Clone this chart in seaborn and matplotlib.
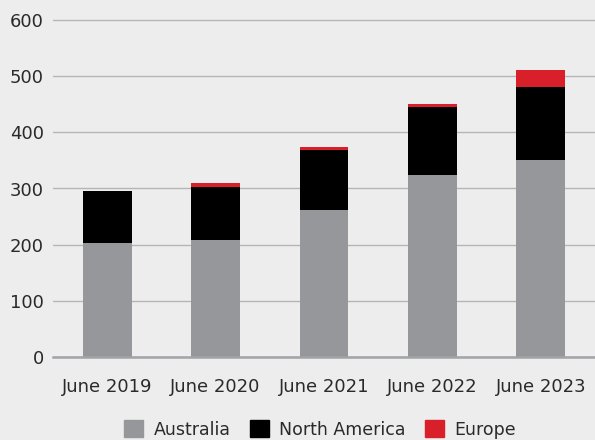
import matplotlib
matplotlib.use("Agg")
import matplotlib.pyplot as plt
import matplotlib.patches as mpatches
from matplotlib.ticker import FixedLocator
import seaborn as sns
import pandas as pd
import numpy as np

categories = ["June 2019", "June 2020", "June 2021", "June 2022", "June 2023"]
australia = [203, 208, 262, 324, 351]
north_america = [92, 95, 106, 121, 130]
europe = [0, 7, 6, 5, 30]
series_names = ["Australia", "North America", "Europe"]
y_ticks = [0, 100, 200, 300, 400, 500, 600]

colors = {"Australia": "#96979b", "North America": "#000000", "Europe": "#d9202a"}
bg = "#ededed"
txt = "#2a2a2a"

sns.set_theme(style="white")
plt.rcParams["font.family"] = ["DejaVu Sans"]

df = pd.DataFrame({"category": categories, "Australia": australia,
                   "North America": north_america, "Europe": europe})
df["c1"] = df["Australia"]
df["c2"] = df["c1"] + df["North America"]
df["c3"] = df["c2"] + df["Europe"]

W, H = 595, 440
fig = plt.figure(figsize=(W / 100, H / 100), dpi=100, facecolor=bg)
ymax = 620
y0_px, y600_px = 357, 20
h_px = (y0_px - y600_px) * ymax / 600
left_px = 53
ax = fig.add_axes([left_px / W, 1 - y0_px / H, (W - left_px) / W, h_px / H])
ax.set_facecolor(bg)

for col, name in [("c3", "Europe"), ("c2", "North America"), ("c1", "Australia")]:
    sns.barplot(data=df, x="category", y=col, color=colors[name], width=0.45,
                saturation=1, ax=ax, zorder=3, linewidth=0)

ax.set_xlim(-0.5, 4.5)
ax.set_ylim(0, ymax)
ax.set_yticks(y_ticks)
ax.set_yticklabels([str(v) for v in y_ticks])
ax.yaxis.grid(True, color="#b5b5b5", linewidth=1.0, zorder=0)
ax.xaxis.grid(False)
ax.set_xlabel("")
ax.set_ylabel("")
for s in ["top", "right", "left"]:
    ax.spines[s].set_visible(False)
ax.spines["bottom"].set_color("#a2a3a8")
ax.spines["bottom"].set_linewidth(1.8)
ax.spines["bottom"].set_zorder(4)

ax.tick_params(axis="y", length=0, pad=6.5, labelsize=13, labelcolor=txt)
ax.tick_params(axis="x", which="major", length=0, pad=15, labelsize=13, labelcolor=txt)
ax.xaxis.set_minor_locator(FixedLocator(np.arange(-0.5, 4.6, 1.0)))
ax.tick_params(axis="x", which="minor", direction="in", length=5.5, width=1.5, color="#a2a3a8")

handles = [mpatches.Patch(color=colors[n], label=n) for n in series_names]
leg = fig.legend(handles=handles, loc="center", bbox_to_anchor=(0.538, 0.024), ncol=3,
                 frameon=False, fontsize=12.5, handlelength=1.1, handleheight=1.1,
                 handletextpad=0.6, columnspacing=1.1)
for t in leg.get_texts():
    t.set_color(txt)

fig.savefig("out.png", dpi=100, facecolor=bg)
